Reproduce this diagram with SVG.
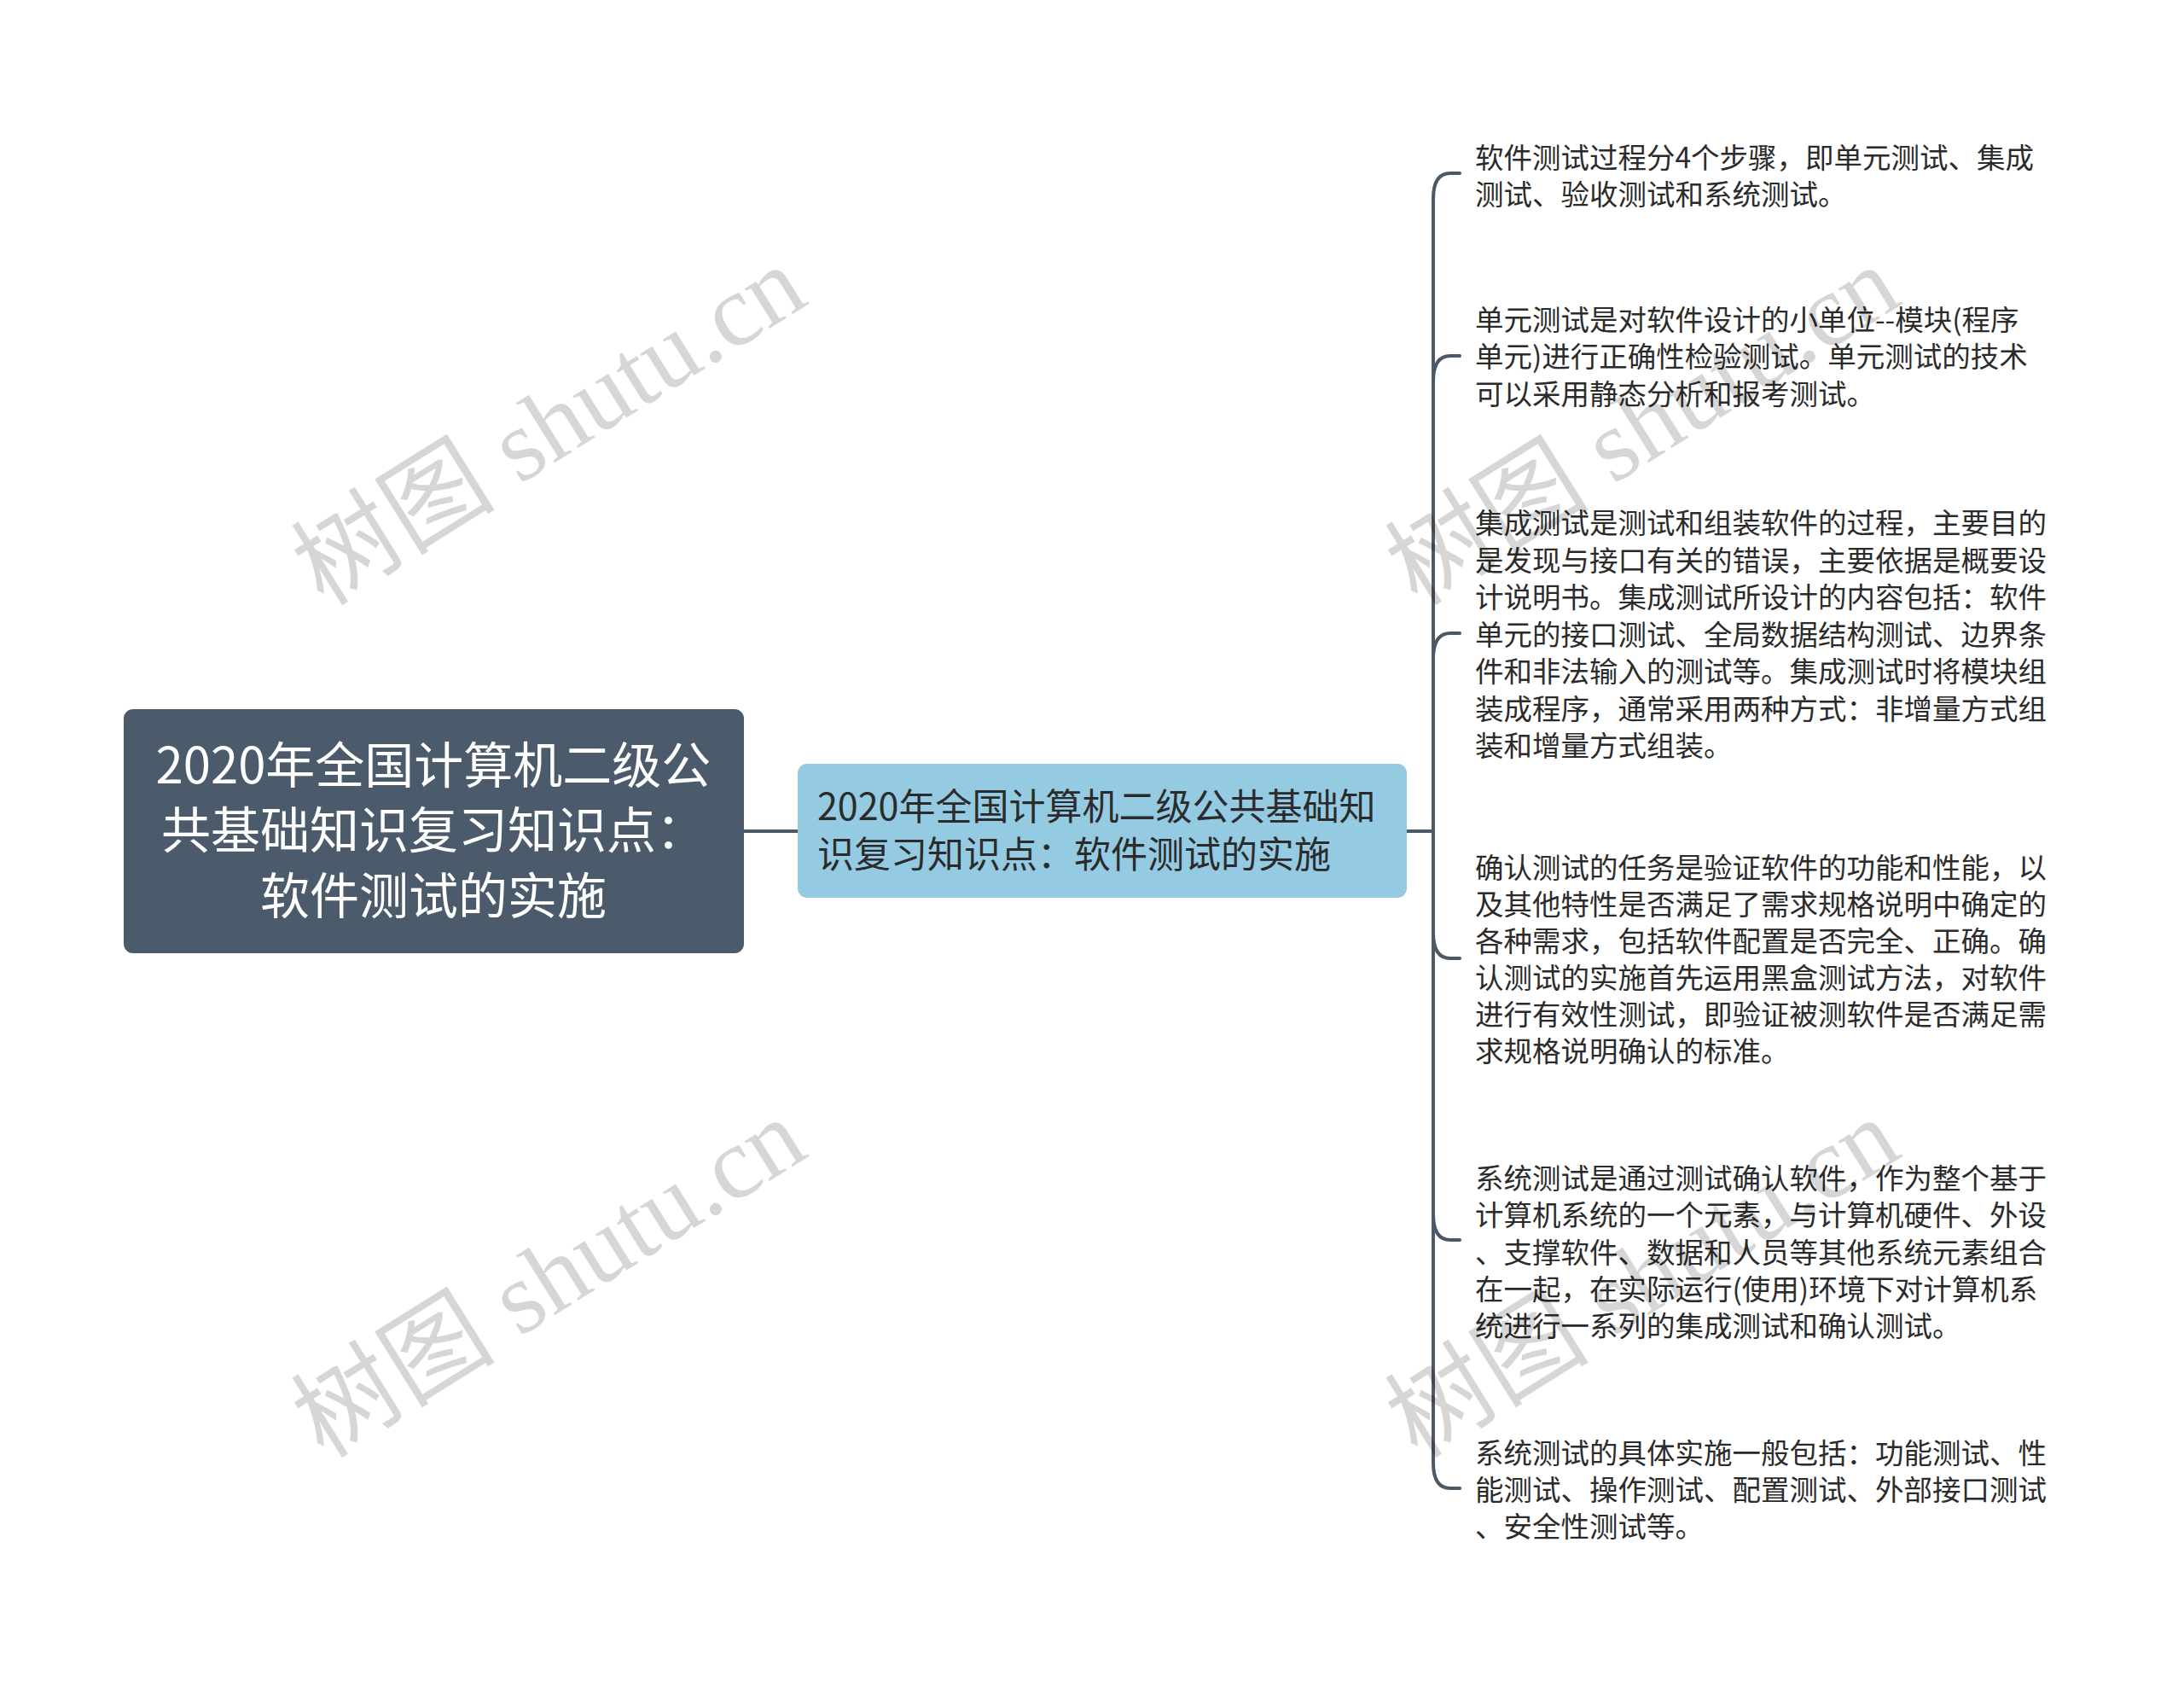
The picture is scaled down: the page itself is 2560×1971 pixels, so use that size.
<svg xmlns="http://www.w3.org/2000/svg" width="2560" height="1971" viewBox="0 0 2560 1971">
<style>
.conn{fill:none;stroke:#4b5865;stroke-width:4;stroke-linecap:round}
.root{fill:#4b5b6b}
.mid{fill:#94cbe3}
.rt{font-family:"Noto Sans CJK SC","Noto Sans",sans-serif;font-size:58px;fill:#ffffff}
.mt{font-family:"Noto Sans CJK SC","Noto Sans",sans-serif;font-size:43px;fill:#2b2b2b}
.ct{font-family:"Noto Sans CJK SC","Noto Sans",sans-serif;font-size:33.5px;fill:#2b2b2b}
.wm{font-family:"Liberation Serif","Noto Sans CJK SC",serif;font-size:120px;fill:#000;fill-opacity:0.16}
</style>
<rect width="2560" height="1971" fill="#ffffff"/>
<g id="connectors">
<path class="conn" d="M872,974 H935"/>
<path class="conn" d="M1649,974 H1680 V233 Q1680,203 1700,203 H1711"/>
<path class="conn" d="M1649,974 H1680 V447 Q1680,417 1700,417 H1711"/>
<path class="conn" d="M1649,974 H1680 V772 Q1680,742 1700,742 H1711"/>
<path class="conn" d="M1649,974 H1680 V1093 Q1680,1123 1700,1123 H1711"/>
<path class="conn" d="M1649,974 H1680 V1423 Q1680,1453 1700,1453 H1711"/>
<path class="conn" d="M1649,974 H1680 V1714 Q1680,1744 1700,1744 H1711"/>
</g>
<g id="root">
<rect class="root" x="145" y="831" width="727" height="286" rx="11"/>
<text class="rt" text-anchor="middle"><tspan x="508" y="918">2020年全国计算机二级公</tspan><tspan x="508" y="994">共基础知识复习知识点：</tspan><tspan x="508" y="1071">软件测试的实施</tspan></text>
</g>
<g id="main">
<rect class="mid" x="935" y="895" width="714" height="157" rx="11"/>
<text class="mt"><tspan x="958" y="961">2020年全国计算机二级公共基础知</tspan><tspan x="958" y="1017">识复习知识点：软件测试的实施</tspan></text>
</g>
<g id="c1">
<text class="ct"><tspan x="1729" y="197">软件测试过程分4个步骤，即单元测试、集成</tspan><tspan x="1729" y="240">测试、验收测试和系统测试。</tspan></text>
</g>
<g id="c2">
<text class="ct"><tspan x="1729" y="387">单元测试是对软件设计的小单位--模块(程序</tspan><tspan x="1729" y="430">单元)进行正确性检验测试。单元测试的技术</tspan><tspan x="1729" y="474">可以采用静态分析和报考测试。</tspan></text>
</g>
<g id="c3">
<text class="ct"><tspan x="1729" y="625">集成测试是测试和组装软件的过程，主要目的</tspan><tspan x="1729" y="668.5">是发现与接口有关的错误，主要依据是概要设</tspan><tspan x="1729" y="712">计说明书。集成测试所设计的内容包括：软件</tspan><tspan x="1729" y="755.5">单元的接口测试、全局数据结构测试、边界条</tspan><tspan x="1729" y="799">件和非法输入的测试等。集成测试时将模块组</tspan><tspan x="1729" y="842.5">装成程序，通常采用两种方式：非增量方式组</tspan><tspan x="1729" y="886">装和增量方式组装。</tspan></text>
</g>
<g id="c4">
<text class="ct"><tspan x="1729" y="1029">确认测试的任务是验证软件的功能和性能，以</tspan><tspan x="1729" y="1072">及其他特性是否满足了需求规格说明中确定的</tspan><tspan x="1729" y="1115">各种需求，包括软件配置是否完全、正确。确</tspan><tspan x="1729" y="1158">认测试的实施首先运用黑盒测试方法，对软件</tspan><tspan x="1729" y="1201">进行有效性测试，即验证被测软件是否满足需</tspan><tspan x="1729" y="1244">求规格说明确认的标准。</tspan></text>
</g>
<g id="c5">
<text class="ct"><tspan x="1729" y="1393">系统测试是通过测试确认软件，作为整个基于</tspan><tspan x="1729" y="1436">计算机系统的一个元素，与计算机硬件、外设</tspan><tspan x="1729" y="1480">、支撑软件、数据和人员等其他系统元素组合</tspan><tspan x="1729" y="1523">在一起，在实际运行(使用)环境下对计算机系</tspan><tspan x="1729" y="1566">统进行一系列的集成测试和确认测试。</tspan></text>
</g>
<g id="c6">
<text class="ct"><tspan x="1729" y="1715">系统测试的具体实施一般包括：功能测试、性</tspan><tspan x="1729" y="1758">能测试、操作测试、配置测试、外部接口测试</tspan><tspan x="1729" y="1801">、安全性测试等。</tspan></text>
</g>
<g id="watermarks">
<text class="wm" text-anchor="middle" transform="translate(665,533) rotate(-32)" x="0" y="0">树图 shutu.cn</text>
<text class="wm" text-anchor="middle" transform="translate(1947,533) rotate(-32)" x="0" y="0">树图 shutu.cn</text>
<text class="wm" text-anchor="middle" transform="translate(665,1532) rotate(-32)" x="0" y="0">树图 shutu.cn</text>
<text class="wm" text-anchor="middle" transform="translate(1947,1532) rotate(-32)" x="0" y="0">树图 shutu.cn</text>
</g>
</svg>
